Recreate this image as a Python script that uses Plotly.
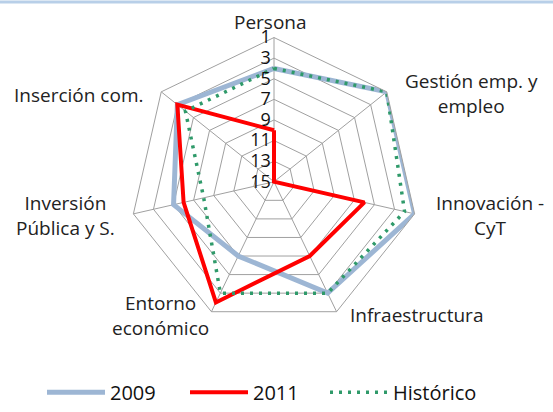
import plotly.graph_objects as go

# ejes del radar (sentido horario desde arriba)
categorias = ["Persona", "Gestión emp. y<br>empleo", "Innovación -<br>CyT",
              "Infraestructura", "Entorno<br>económico", "Inversión<br>Pública y S.",
              "Inserción com."]
v2009 = [4, 1, 1, 3, 7, 5, 3]
v2011 = [10, 15, 6, 7, 2, 6, 3]
historico = [4, 1, 2, 3, 3, 8, 4]
ticks = [1, 3, 5, 7, 9, 11, 13, 15]

# posiciones (px) de las etiquetas de cada eje
pos_etiquetas = [(270, 22), (471, 95), (490, 218), (416, 319),
                 (160, 319), (65, 218), (78, 96)]


def cerrar(lst):
    return lst + lst[:1]


fig = go.Figure()
fig.add_trace(go.Scatterpolar(r=cerrar(v2009), theta=cerrar(categorias), name="2009",
                              mode="lines", line=dict(color="#9db6d4", width=5),
                              legend="legend", showlegend=True))
fig.add_trace(go.Scatterpolar(r=cerrar(v2011), theta=cerrar(categorias), name="2011",
                              mode="lines", line=dict(color="#ff0000", width=4),
                              legend="legend2", showlegend=True))
fig.add_trace(go.Scatterpolar(r=cerrar(historico), theta=cerrar(categorias), name="Histórico",
                              mode="lines", line=dict(color="#2f9a6a", width=3.5, dash="3px,6px"),
                              legend="legend3", showlegend=True))

R = 146
cx, cy = 274, 184
W, H = 553, 412

anots = []
for txt, (px, py) in zip(categorias, pos_etiquetas):
    anots.append(dict(text=txt, x=px / W, y=1 - py / H, xref="paper", yref="paper",
                      showarrow=False, xanchor="center", yanchor="middle",
                      font=dict(size=19, color="#222222")))


def leyenda(px):
    return dict(orientation="h", x=px / W, xanchor="left", y=1 - 397 / H, yanchor="middle",
                font=dict(size=20, color="#111111"), itemwidth=58, bgcolor="rgba(0,0,0,0)")


fig.update_layout(
    width=W, height=H,
    showlegend=True,
    margin=dict(l=0, r=0, t=0, b=0),
    paper_bgcolor="white",
    font=dict(family="Open Sans, DejaVu Sans, sans-serif", size=16, color="#222222"),
    polar=dict(
        domain=dict(x=[(cx - R) / W, (cx + R) / W], y=[1 - (cy + R) / H, 1 - (cy - R) / H]),
        bgcolor="white",
        gridshape="linear",
        radialaxis=dict(range=[15, 1], tickvals=ticks, angle=90, tickangle=90,
                        side="counterclockwise", showline=False, ticks="",
                        gridcolor="#a0a0a0", gridwidth=1,
                        tickfont=dict(size=18, color="#111111")),
        angularaxis=dict(direction="clockwise", rotation=90, showline=True,
                         linecolor="#a0a0a0", gridcolor="#a0a0a0", ticks="",
                         showticklabels=False),
    ),
    annotations=anots,
    legend=leyenda(42),
    legend2=leyenda(185),
    legend3=leyenda(325),
    shapes=[dict(type="line", xref="paper", yref="paper", x0=0, x1=1, y0=0.995, y1=0.995,
                 line=dict(color="#b8cfe8", width=3))],
)

# sin margen del body para que la figura ocupe toda la ventana
fig.write_html("out.html", config={"displayModeBar": False},
               post_script="document.body.style.margin='0';")
